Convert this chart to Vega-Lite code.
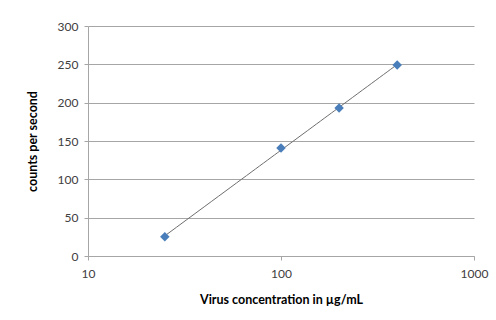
{
  "$schema": "https://vega.github.io/schema/vega-lite/v6.json",
  "width": 386,
  "height": 230,
  "autosize": {"type": "none"},
  "padding": {"left": 88, "top": 26, "right": 22, "bottom": 64},
  "background": "white",
  "config": {
    "view": {"stroke": null},
    "font": "Lato",
    "axis": {
      "labelFont": "Lato",
      "titleFont": "Lato",
      "labelFontSize": 12,
      "labelColor": "#404040",
      "titleFontSize": 12.5,
      "titleFontWeight": "bold",
      "titleColor": "#000000",
      "domainColor": "#A6A6A6",
      "tickColor": "#A6A6A6",
      "gridColor": "#A6A6A6",
      "gridOpacity": 1
    }
  },
  "data": {
    "values": [
      {"conc": 25, "cps": 25},
      {"conc": 100, "cps": 141},
      {"conc": 200, "cps": 193},
      {"conc": 400, "cps": 249}
    ]
  },
  "encoding": {
    "x": {
      "field": "conc",
      "type": "quantitative",
      "scale": {"type": "log", "domain": [10, 1000], "nice": false},
      "axis": {
        "title": "Virus concentration in µg/mL",
        "values": [10, 100, 1000],
        "format": "d",
        "grid": false,
        "tickSize": 4,
        "labelPadding": 8,
        "labelFlush": false,
        "titlePadding": 14
      }
    },
    "y": {
      "field": "cps",
      "type": "quantitative",
      "scale": {"domain": [0, 300], "nice": false},
      "axis": {
        "title": "counts per second",
        "values": [0, 50, 100, 150, 200, 250, 300],
        "tickSize": 4,
        "labelPadding": 6,
        "titlePadding": 18,
        "labelOverlap": false
      }
    }
  },
  "layer": [
    {
      "transform": [{"regression": "cps", "on": "conc", "method": "log"}],
      "mark": {"type": "line", "color": "#6e6e6e", "strokeWidth": 1}
    },
    {
      "mark": {"type": "point", "shape": "diamond", "filled": true, "color": "#4A7EBB", "opacity": 1, "size": 90}
    }
  ]
}
